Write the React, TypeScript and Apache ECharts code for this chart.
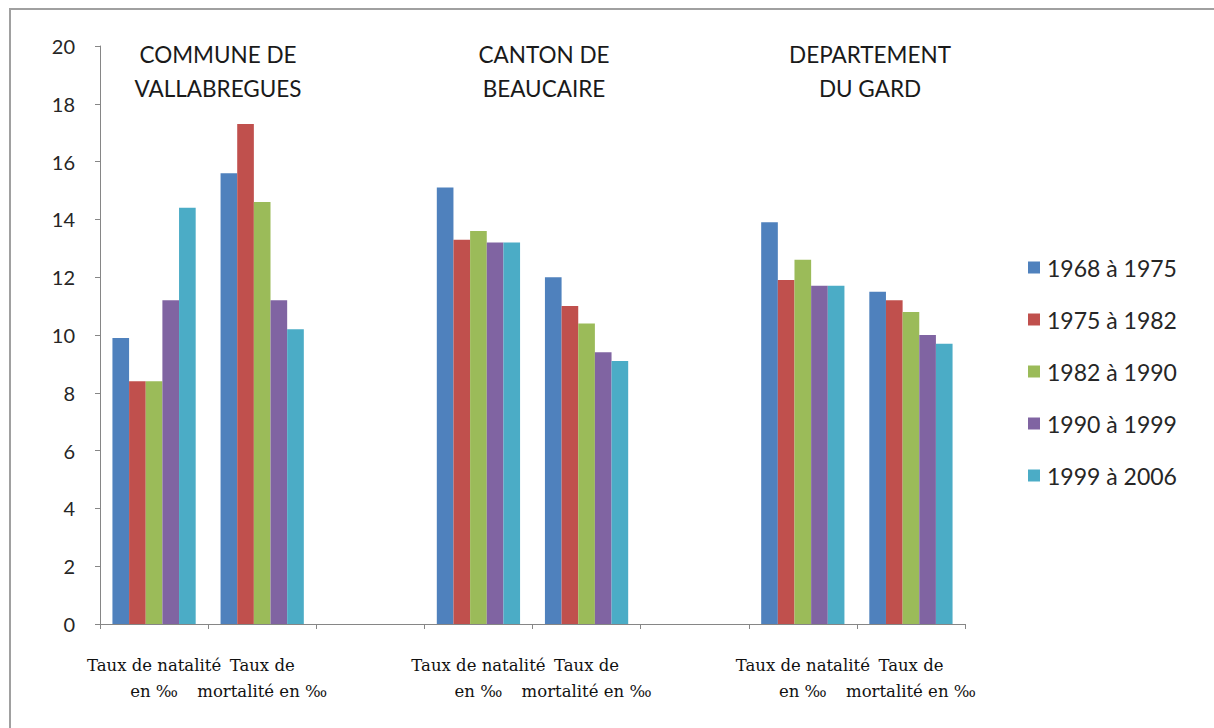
import React, { useEffect, useRef } from "react";
import * as echarts from "echarts";

const categories = [
  "Taux de natalité\nen ‰",
  "Taux de\nmortalité en ‰",
  "",
  "Taux de natalité\nen ‰",
  "Taux de\nmortalité en ‰",
  "",
  "Taux de natalité\nen ‰",
  "Taux de\nmortalité en ‰",
];

const seriesNames = ["1968 à 1975", "1975 à 1982", "1982 à 1990", "1990 à 1999", "1999 à 2006"];

const s1968 = [9.9, 15.6, null, 15.1, 12.0, null, 13.9, 11.5];
const s1975 = [8.4, 17.3, null, 13.3, 11.0, null, 11.9, 11.2];
const s1982 = [8.4, 14.6, null, 13.6, 10.4, null, 12.6, 10.8];
const s1990 = [11.2, 11.2, null, 13.2, 9.4, null, 11.7, 10.0];
const s1999 = [14.4, 10.2, null, 13.2, 9.1, null, 11.7, 9.7];

const seriesValues = [s1968, s1975, s1982, s1990, s1999];
const colors = ["#4F81BD", "#C0504D", "#9BBB59", "#8064A2", "#4BACC6"];

const groupTitles = ["COMMUNE DE\nVALLABREGUES", "CANTON DE\nBEAUCAIRE", "DEPARTEMENT\nDU GARD"];
const yTicks = { min: 0, max: 20, interval: 2 };

export default function App() {
  const ref = useRef<HTMLDivElement>(null);
  useEffect(() => {
    document.body.style.margin = "0";
    const chart = echarts.init(ref.current!, null, { renderer: "svg" });
    const sans = "Lato";
    const titleX = [218, 544, 870];
    chart.setOption({
      animation: false,
      backgroundColor: "#ffffff",
      color: colors,
      grid: { left: 100, right: 249, top: 46, bottom: 104 },
      legend: {
        orient: "vertical",
        left: 1023,
        top: 251,
        itemWidth: 12,
        itemHeight: 12,
        itemGap: 29,
        icon: "rect",
        textStyle: { fontFamily: sans, fontSize: 23, color: "#262626", padding: [0, 0, 0, 2] },
        data: seriesNames,
      },
      xAxis: {
        type: "category",
        data: categories,
        axisLine: { lineStyle: { color: "#868686", width: 1 } },
        axisTick: { show: true, length: 5, lineStyle: { color: "#868686" } },
        axisLabel: {
          interval: 0,
          margin: 28,
          fontFamily: "DejaVu Serif",
          fontSize: 16.5,
          lineHeight: 26,
          color: "#111111",
        },
      },
      yAxis: {
        type: "value",
        min: yTicks.min,
        max: yTicks.max,
        interval: yTicks.interval,
        splitLine: { show: false },
        axisLine: { show: true, lineStyle: { color: "#868686", width: 1 } },
        axisTick: { show: true, length: 5, lineStyle: { color: "#868686" } },
        axisLabel: { margin: 25, fontFamily: sans, fontSize: 20, color: "#262626" },
      },
      series: seriesNames.map((name, i) => ({
        name,
        type: "bar",
        data: seriesValues[i],
        barGap: "0%",
        barCategoryGap: "23%",
        itemStyle: { color: colors[i] },
      })),
      graphic: [
        {
          type: "rect",
          shape: { x: 10, y: 9, width: 1300, height: 800 },
          style: { fill: "none", stroke: "#a0a0a0", lineWidth: 2 },
          silent: true,
        },
        ...groupTitles.map((t, i) => ({
          type: "text",
          x: titleX[i],
          y: 37,
          style: {
            text: t,
            textAlign: "center",
            textVerticalAlign: "top",
            fontFamily: sans,
            fontSize: 22.5,
            lineHeight: 34,
            fill: "#1a1a1a",
          },
        })),
      ],
    });
    return () => chart.dispose();
  }, []);
  return <div ref={ref} style={{ width: 1214, height: 728 }} />;
}
